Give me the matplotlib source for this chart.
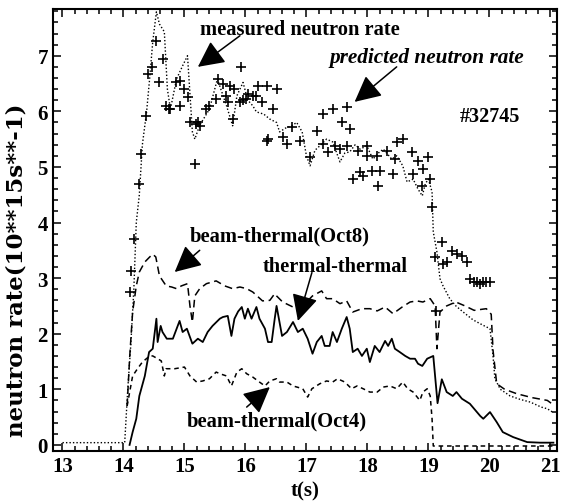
import numpy as np
import matplotlib
matplotlib.use("Agg")
import matplotlib.pyplot as plt
from matplotlib.ticker import MultipleLocator

plt.rcParams['font.family'] = ['Liberation Serif', 'DejaVu Serif']
plt.rcParams['font.weight'] = 'bold'

# predicted neutron rate (dotted)
t_pred = [13.0, 14.02, 14.07, 14.12, 14.17, 14.21, 14.26, 14.31, 14.38, 14.43, 14.48, 14.54,
          14.59, 14.67, 14.72, 14.77, 14.87, 14.97, 15.05, 15.13, 15.17, 15.25, 15.41, 15.54,
          15.69, 15.79, 15.86, 15.96, 16.04, 16.12, 16.18, 16.3, 16.4, 16.51, 16.56, 16.66,
          16.76, 16.84, 16.93, 17.0, 17.06, 17.14, 17.22, 17.33, 17.43, 17.55, 17.63, 17.71,
          17.8, 17.88, 17.99, 18.09, 18.18, 18.26, 18.4, 18.48, 18.58, 18.65, 18.75, 18.83,
          18.9, 18.95, 19.0, 19.06, 19.08, 19.14, 19.19, 19.24, 19.35, 19.45, 19.57, 19.73,
          19.9, 20.01, 20.06, 20.09, 20.18, 20.34, 20.5, 20.67, 20.85, 20.95, 21.05]
y_pred = [0.04, 0.04, 1.0, 1.8, 2.8, 4.0, 4.5, 5.4, 6.0, 6.6, 7.25, 7.79,
          7.57, 7.43, 6.4, 6.04, 6.58, 6.82, 7.0, 5.63, 5.5, 5.75, 6.04, 6.58,
          6.1, 5.74, 6.28, 6.52, 6.2, 6.1, 5.99, 5.95, 5.86, 5.8, 5.63, 5.7,
          5.74, 5.8, 5.63, 5.2, 5.02, 5.3, 5.38, 5.5, 5.45, 5.09, 5.25, 5.27,
          5.4, 5.32, 5.38, 5.14, 5.25, 5.32, 5.14, 5.2, 5.02, 4.73, 4.78, 4.6,
          4.48, 4.7, 4.78, 4.55, 3.83, 3.47, 2.99, 2.86, 2.63, 2.5, 2.39, 2.25,
          2.15, 2.09, 1.6, 1.19, 1.0, 0.88, 0.82, 0.77, 0.68, 0.65, 0.58]

# measured neutron rate (crosses)
t_meas = [14.1, 14.13, 14.18, 14.25, 14.29, 14.37, 14.40, 14.46, 14.53, 14.59, 14.65, 14.70,
          14.74, 14.77, 14.86, 14.92, 14.92, 15.0, 15.06, 15.09, 15.17, 15.19, 15.25, 15.22,
          15.36, 15.40, 15.52, 15.55, 15.63, 15.68, 15.71, 15.74, 15.79, 15.82, 15.91, 15.93,
          15.96, 16.01, 16.04, 16.12, 16.2, 16.18, 16.27, 16.35, 16.37, 16.45, 16.51, 16.35,
          16.61, 16.68, 16.76, 16.89, 17.06, 17.17, 17.27, 17.43, 17.58, 17.66, 17.71, 17.27,
          17.35, 17.47, 17.55, 17.66, 17.85, 17.99, 17.99, 18.16, 18.32, 18.45, 17.76, 17.88,
          17.93, 18.07, 18.2, 18.18, 18.42, 18.48, 18.58, 18.73, 18.83, 18.99, 18.91, 18.75,
          18.9, 19.03, 19.06, 19.12, 19.11, 19.22, 19.24, 19.3, 19.39, 19.47, 19.55, 19.63,
          19.68, 19.75, 19.8, 19.85, 19.9, 19.95, 20.01]
y_meas = [2.75, 3.13, 3.7, 4.69, 5.23, 5.92, 6.67, 6.8, 7.27, 6.52, 6.94, 6.1,
          6.05, 6.04, 6.52, 6.55, 6.1, 6.4, 6.25, 5.8, 5.05, 5.77, 5.74, 5.8,
          6.04, 6.1, 6.22, 6.58, 6.49, 6.28, 6.16, 6.46, 5.86, 6.4, 6.16, 6.8,
          6.2, 6.22, 6.31, 6.28, 6.46, 6.28, 6.16, 6.46, 5.5, 6.04, 6.4, 5.47,
          5.53, 5.41, 5.72, 5.47, 5.18, 5.65, 5.95, 6.04, 5.8, 6.08, 5.68, 5.41,
          5.27, 5.38, 5.32, 5.38, 5.29, 5.38, 5.2, 5.2, 5.29, 5.14, 4.78, 4.91,
          4.84, 4.93, 4.93, 4.66, 4.87, 5.45, 5.5, 5.27, 5.11, 5.18, 4.96, 4.87,
          4.66, 4.78, 4.28, 2.4, 3.38, 3.65, 3.26, 3.29, 3.49, 3.43, 3.4, 3.29,
          2.99, 2.93, 2.93, 2.9, 2.93, 2.93, 2.93]

# beam-thermal (Oct8), dashed
t_oct8 = [14.06, 14.1, 14.15, 14.21, 14.26, 14.35, 14.43, 14.48, 14.53, 14.59, 14.7, 14.79,
          14.87, 14.95, 15.05, 15.09, 15.13, 15.17, 15.25, 15.36, 15.52, 15.66, 15.79, 15.91,
          16.02, 16.12, 16.28, 16.4, 16.48, 16.51, 16.61, 16.78, 16.9, 17.0, 17.1, 17.25,
          17.33, 17.43, 17.55, 17.66, 17.76, 17.91, 18.04, 18.16, 18.29, 18.42, 18.57, 18.7,
          18.81, 18.91, 19.03, 19.11, 19.14, 19.19, 19.3, 19.45, 19.6, 19.75, 19.95, 20.03,
          20.06, 20.12, 20.25, 20.45, 20.7, 20.95, 21.05]
y_oct8 = [0.7, 1.55, 2.39, 2.86, 3.11, 3.29, 3.38, 3.43, 3.38, 3.04, 2.86, 2.84,
          2.81, 2.86, 2.9, 2.5, 2.21, 2.68, 2.81, 2.9, 2.95, 2.86, 2.81, 2.84,
          2.81, 2.75, 2.59, 2.6, 2.72, 2.68, 2.57, 2.48, 2.5, 2.57, 2.68, 2.77,
          2.63, 2.63, 2.54, 2.59, 2.39, 2.45, 2.45, 2.41, 2.48, 2.36, 2.48, 2.57,
          2.59, 2.57, 2.63, 2.5, 1.73, 2.39, 2.5, 2.57, 2.5, 2.42, 2.45, 2.35,
          1.7, 1.1, 1.0, 0.92, 0.85, 0.8, 0.72]

# thermal-thermal, solid
t_tt = [14.1, 14.15, 14.21, 14.26, 14.35, 14.42, 14.48, 14.54, 14.56, 14.61, 14.64, 14.71,
        14.81, 14.92, 14.97, 15.04, 15.13, 15.22, 15.3, 15.38, 15.46, 15.58, 15.63, 15.71,
        15.77, 15.82, 15.88, 15.94, 15.99, 16.04, 16.1, 16.18, 16.23, 16.32, 16.37, 16.43,
        16.48, 16.51, 16.6, 16.68, 16.78, 16.86, 16.94, 17.02, 17.1, 17.17, 17.25, 17.3,
        17.38, 17.43, 17.5, 17.58, 17.66, 17.71, 17.76, 17.84, 17.91, 17.99, 18.04, 18.12,
        18.2, 18.29, 18.34, 18.4, 18.45, 18.53, 18.62, 18.7, 18.78, 18.83, 18.9, 18.98,
        19.08, 19.15, 19.22, 19.3, 19.4, 19.46, 19.55, 19.68, 19.85, 19.9, 20.01, 20.12,
        20.22, 20.39, 20.62, 20.83, 21.05]
y_tt = [0.0, 0.23, 0.47, 0.88, 1.24, 1.67, 1.73, 2.27, 1.85, 2.14, 2.03, 1.91,
        1.91, 2.23, 2.03, 2.09, 1.82, 1.91, 1.85, 2.03, 2.14, 2.27, 2.3, 2.32,
        1.96, 2.27, 2.4, 2.48, 2.27, 2.45, 2.27, 2.48, 2.27, 2.09, 1.85, 1.85,
        2.27, 2.5, 1.96, 2.03, 2.21, 2.03, 2.09, 1.91, 1.64, 1.85, 1.96, 1.78,
        1.78, 2.03, 1.85, 2.09, 2.3, 2.09, 1.67, 1.73, 1.6, 1.73, 1.49, 1.78,
        1.67, 1.87, 1.78, 1.91, 1.73, 1.67, 1.6, 1.55, 1.55, 1.46, 1.42, 1.55,
        1.6, 0.75, 1.18, 0.95, 0.88, 0.95, 0.83, 0.74, 0.52, 0.47, 0.59, 0.41,
        0.23, 0.14, 0.05, 0.04, 0.04]

# beam-thermal (Oct4), short dashes
t_oct4 = [14.06, 14.15, 14.23, 14.31, 14.43, 14.48, 14.56, 14.62, 14.67, 14.7, 14.84, 15.0,
          15.09, 15.2, 15.3, 15.41, 15.52, 15.58, 15.69, 15.77, 15.86, 15.94, 16.02, 16.12,
          16.23, 16.32, 16.4, 16.51, 16.56, 16.68, 16.78, 16.94, 17.02, 17.09, 17.22, 17.33,
          17.43, 17.51, 17.63, 17.74, 17.83, 17.93, 18.04, 18.16, 18.26, 18.37, 18.48, 18.58,
          18.66, 18.75, 18.86, 18.91, 18.98, 19.03, 19.06, 19.08, 21.05]
y_oct4 = [0.7, 1.24, 1.37, 1.49, 1.6, 1.6, 1.55, 1.51, 1.24, 1.37, 1.37, 1.4,
          1.24, 1.13, 1.15, 1.19, 1.31, 1.28, 1.24, 1.06, 1.31, 1.37, 1.28, 1.22,
          1.13, 1.06, 1.15, 1.19, 1.13, 1.13, 1.06, 1.01, 0.86, 1.01, 1.1, 1.15,
          1.13, 1.19, 1.13, 1.01, 1.06, 1.01, 0.95, 0.95, 1.04, 1.06, 1.01, 1.13,
          1.01, 0.95, 0.8, 0.95, 1.01, 0.88, 0.47, -0.02, -0.02]

fig, ax = plt.subplots(figsize=(5.61, 5.02), dpi=100)
fig.subplots_adjust(left=0.094, right=0.993, bottom=0.0996, top=0.980)

ax.plot(t_pred, y_pred, color='black', lw=1.0, linestyle=(0, (1, 1.5)))
ax.plot(t_meas, y_meas, '+', color='black', markersize=7.5, mew=1.2)
ax.plot(t_oct8, y_oct8, color='black', lw=1.1, linestyle=(0, (5, 3)))
ax.plot(t_tt, y_tt, color='black', lw=1.3)
ax.plot(t_oct4, y_oct4, color='black', lw=1.1, linestyle=(0, (3, 2.5)))

ax.set_xlim(12.84, 21.11)
ax.set_ylim(-0.11, 7.84)
ax.xaxis.set_major_locator(MultipleLocator(1))
ax.xaxis.set_minor_locator(MultipleLocator(0.2))
ax.yaxis.set_major_locator(MultipleLocator(1))
ax.yaxis.set_minor_locator(MultipleLocator(0.2))
ax.tick_params(which='both', direction='in', top=True, right=True, width=1.1)
ax.tick_params(which='major', length=6, labelsize=15)
ax.tick_params(which='minor', length=3.5)
for s in ax.spines.values():
    s.set_linewidth(1.5)

ax.set_xlabel('t(s)', fontsize=15, fontweight='bold', labelpad=3)
# the scanned label is long and narrow, DejaVu Serif is wider than Times
ax.set_ylabel('neutron rate(10**15s**-1)', fontsize=16.5, fontweight='bold',
              family=['DejaVu Serif'])
ax.yaxis.set_label_coords(-0.05, 0.41)

arr = dict(arrowstyle='-|>,head_length=0.9,head_width=0.45', mutation_scale=18,
           color='black', lw=1.1, shrinkA=0, shrinkB=0)
ax.text(15.25, 7.48, 'measured neutron rate', fontsize=14.8, fontweight='bold',
        va='center', ha='left')
ax.annotate('', xy=(15.22, 6.8), xytext=(15.91, 7.36), arrowprops=arr)
ax.text(17.38, 6.98, 'predicted neutron rate', fontsize=15.3, fontweight='bold',
        style='italic', va='center', ha='left')
ax.annotate('', xy=(17.79, 6.17), xytext=(18.48, 6.8), arrowprops=arr)
ax.text(20.01, 5.92, '#32745', fontsize=14.5, fontweight='bold', va='center', ha='center')
ax.text(15.09, 3.76, 'beam-thermal(Oct8)', fontsize=14.8, fontweight='bold', va='center', ha='left')
ax.annotate('', xy=(14.84, 3.11), xytext=(15.25, 3.5), arrowprops=arr)
ax.text(17.47, 3.22, 'thermal-thermal', fontsize=14.7, fontweight='bold', va='center', ha='center')
ax.annotate('', xy=(16.86, 2.23), xytext=(17.09, 3.1), arrowprops=arr)
ax.text(16.51, 0.43, 'beam-thermal(Oct4)', fontsize=14.8, fontweight='bold', va='center', ha='center')
ax.annotate('', xy=(16.4, 1.04), xytext=(16.02, 0.68), arrowprops=arr)

fig.savefig('out.png', dpi=100)
